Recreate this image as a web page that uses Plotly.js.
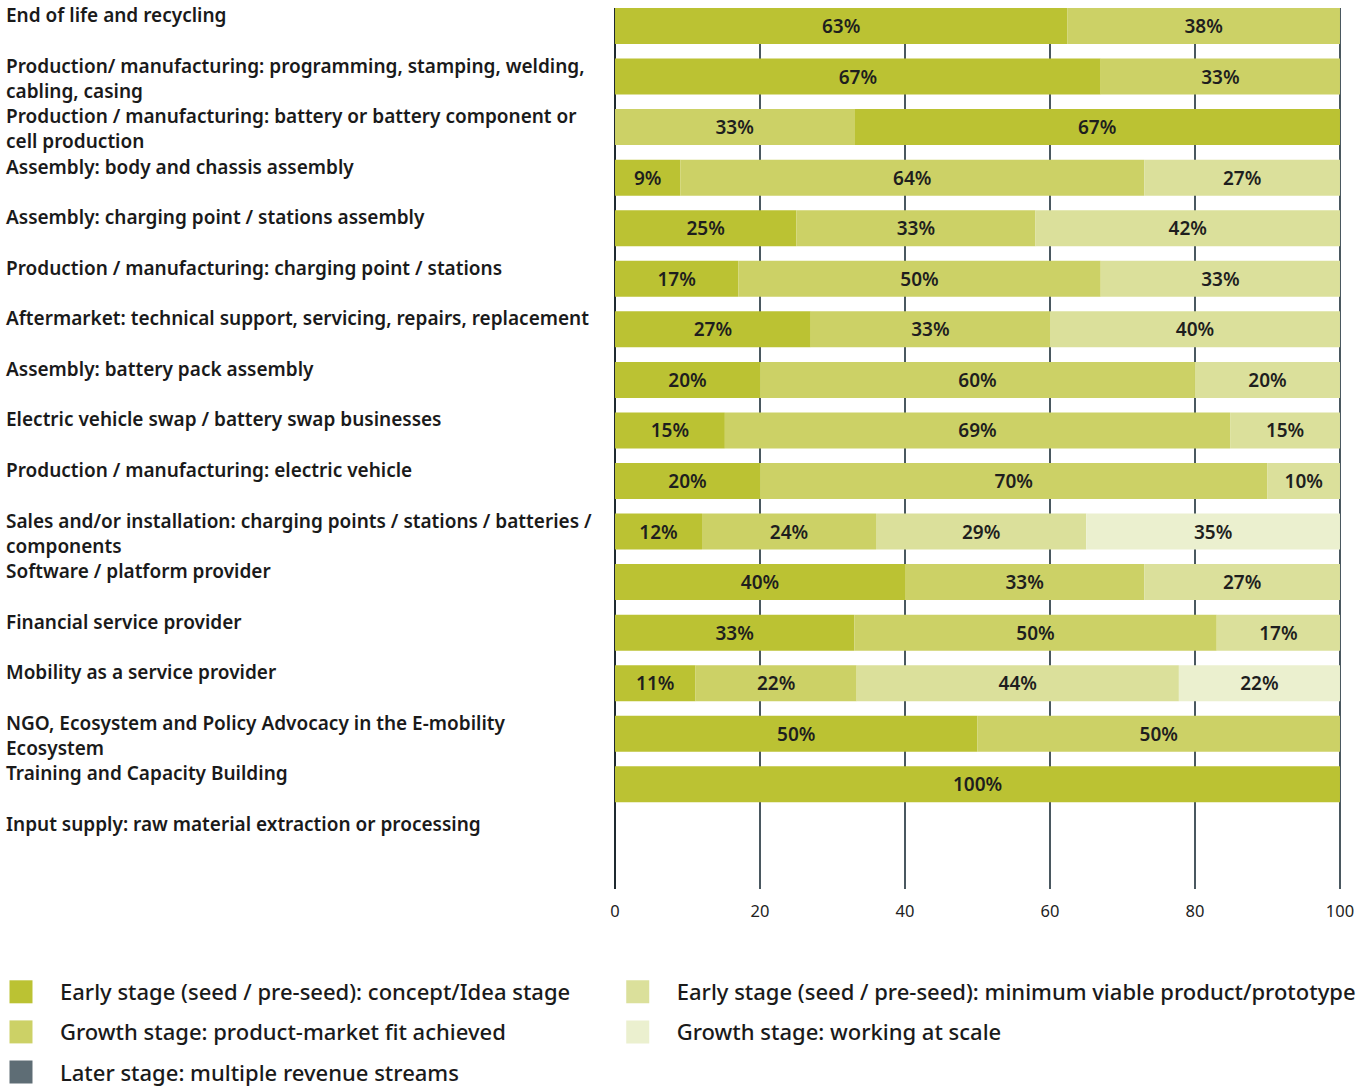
<!DOCTYPE html>
<html>
<head>
<meta charset="utf-8">
<script src="https://cdn.plot.ly/plotly-3.0.1.min.js"></script>
<style>
  html, body { margin: 0; padding: 0; background: #ffffff; }
  #chart { width: 1367px; height: 1088px; }
</style>
</head>
<body>
<div id="chart"></div>
<script>
// ---------- DATA ----------
const categories = [
  "End of life and recycling",
  "Production/ manufacturing: programming, stamping, welding,<br>cabling, casing",
  "Production / manufacturing: battery or battery component or<br>cell production",
  "Assembly: body and chassis assembly",
  "Assembly: charging point / stations assembly",
  "Production / manufacturing: charging point / stations",
  "Aftermarket: technical support, servicing, repairs, replacement",
  "Assembly: battery pack assembly",
  "Electric vehicle swap / battery swap businesses",
  "Production / manufacturing: electric vehicle",
  "Sales and/or installation: charging points / stations / batteries /<br>components",
  "Software / platform provider",
  "Financial service provider",
  "Mobility as a service provider",
  "NGO, Ecosystem and Policy Advocacy in the E-mobility<br>Ecosystem",
  "Training and Capacity Building",
  "Input supply: raw material extraction or processing"
];

const stageConcept = "Early stage (seed / pre-seed): concept/Idea stage";
const stageMVP     = "Early stage (seed / pre-seed): minimum viable product/prototype";
const stagePMF     = "Growth stage: product-market fit achieved";
const stageScale   = "Growth stage: working at scale";
const stageLater   = "Later stage: multiple revenue streams";

const conceptValues = [63, 67, 67,  9, 25, 17, 27, 20, 15, 20, 12, 40, 33, 11, 50, 100, 0];
const pmfValues     = [38, 33, 33, 64, 33, 50, 33, 60, 69, 70, 24, 33, 50, 22, 50,   0, 0];
const mvpValues     = [ 0,  0,  0, 27, 42, 33, 40, 20, 15, 10, 29, 27, 17, 44,  0,   0, 0];
const scaleValues   = [ 0,  0,  0,  0,  0,  0,  0,  0,  0,  0, 35,  0,  0, 22,  0,   0, 0];
const laterValues   = [ 0,  0,  0,  0,  0,  0,  0,  0,  0,  0,  0,  0,  0,  0,  0,   0, 0];

// stacking order of the segments in each bar (the battery row starts with the PMF segment)
const defaultOrder = ["concept", "pmf", "mvp", "scale", "later"];
const batteryOrder = ["pmf", "concept", "mvp", "scale", "later"];
const rowOrders = categories.map((c, i) => i === 2 ? batteryOrder : defaultOrder);

const xTicks = [0, 20, 40, 60, 80, 100];

// ---------- STYLE ----------
const colors = {
  concept: "#bbc233",
  pmf: "#ccd166",
  mvp: "#dbe09b",
  scale: "#ebf0cf",
  later: "#5e6d75"
};
const FONT = "Noto Sans, Open Sans, sans-serif";

const series = {
  concept: { name: stageConcept, values: conceptValues, legend: "legend",  group: "g1" },
  pmf:     { name: stagePMF,     values: pmfValues,     legend: "legend",  group: "g2" },
  mvp:     { name: stageMVP,     values: mvpValues,     legend: "legend2", group: "g4" },
  scale:   { name: stageScale,   values: scaleValues,   legend: "legend2", group: "g5" },
  later:   { name: stageLater,   values: laterValues,   legend: "legend",  group: "g3" }
};

// each bar is drawn as a share of its row total (rounded labels may not add to 100)
const rowTotals = categories.map((c, i) =>
  Object.keys(series).reduce((s, k) => s + series[k].values[i], 0));
const shares = {};
Object.keys(series).forEach(k => {
  shares[k] = series[k].values.map((v, i) => rowTotals[i] > 0 ? v / rowTotals[i] * 100 : 0);
});

// bases from the per-row stacking order
const bases = {};
Object.keys(series).forEach(k => bases[k] = []);
categories.forEach((c, i) => {
  let acc = 0;
  rowOrders[i].forEach(k => {
    bases[k][i] = acc;
    acc += shares[k][i];
  });
});

const traceKeys = ["concept", "pmf", "later", "mvp", "scale"];
const traces = traceKeys.map(k => ({
  type: "bar",
  orientation: "h",
  name: series[k].name,
  legend: series[k].legend,
  legendgroup: series[k].group,
  y: categories,
  x: shares[k],
  base: bases[k],
  text: series[k].values.map(v => v > 0 ? v + "%" : ""),
  textposition: "inside",
  insidetextanchor: "middle",
  textangle: 0,
  constraintext: "none",
  textfont: { family: FONT, size: 19, color: "#1e1e1e", weight: 600 },
  marker: { color: colors[k], line: { width: 0 } },
  hovertemplate: "%{text}<extra>" + series[k].name + "</extra>"
}));

const marginL = 614, marginR = 26, marginT = 8, marginB = 199;
const plotW = 1367 - marginL - marginR;

const annotations = categories.map(c => ({
  xref: "paper", yref: "y",
  x: (4 - marginL) / plotW, y: c,
  xanchor: "left", yanchor: "top",
  yshift: 26,
  align: "left",
  showarrow: false,
  text: c,
  font: { family: FONT, size: 19, color: "#1a1a1a", weight: 600 }
}));

const legendFont = { family: FONT, size: 22, color: "#1a1a1a", weight: 500 };

const layout = {
  width: 1367, height: 1088,
  margin: { l: marginL, r: marginR, t: marginT, b: marginB, autoexpand: false },
  paper_bgcolor: "#ffffff",
  plot_bgcolor: "#ffffff",
  barmode: "overlay",
  bargap: 0.288,
  showlegend: true,
  xaxis: {
    range: [-0.14, 100.14],
    tickvals: xTicks,
    ticktext: xTicks.map(String),
    tickangle: 0,
    showgrid: true,
    gridcolor: "#4a5860",
    gridwidth: 2,
    zeroline: true,
    zerolinecolor: "#1f2a30",
    zerolinewidth: 2,
    showline: false,
    ticks: "outside",
    ticklen: 7,
    tickcolor: "rgba(0,0,0,0)",
    tickfont: { family: FONT, size: 16.5, color: "#222222" },
    fixedrange: true
  },
  yaxis: {
    type: "category",
    categoryorder: "array",
    categoryarray: categories,
    range: [17.07, -0.356],
    showticklabels: false,
    showgrid: false,
    zeroline: false,
    ticks: "",
    fixedrange: true
  },
  legend: {
    xref: "container", yref: "container",
    x: 0, y: 1 - 971 / 1088,
    xanchor: "left", yanchor: "top",
    orientation: "v",
    traceorder: "grouped",
    tracegroupgap: 8.5,
    itemwidth: 50,
    font: legendFont,
    bgcolor: "rgba(0,0,0,0)"
  },
  legend2: {
    xref: "container", yref: "container",
    x: 0.438, y: 1 - 971 / 1088,
    xanchor: "left", yanchor: "top",
    orientation: "v",
    traceorder: "grouped",
    tracegroupgap: 8.5,
    itemwidth: 68,
    font: legendFont,
    bgcolor: "rgba(0,0,0,0)"
  },
  annotations: annotations
};

const gd = document.getElementById("chart");
function enlargeLegendSymbols() {
  gd.querySelectorAll("g.legend .legendpoints path").forEach(p => {
    p.setAttribute("d", "M2.5,11.5H-20.5V-11.5H2.5Z");
    p.style.strokeWidth = "0";
  });
  gd.querySelectorAll("g.legend2 .legendpoints path").forEach(p => {
    p.setAttribute("d", "M11.5,11.5H-11.5V-11.5H11.5Z");
    p.style.strokeWidth = "0";
  });
}
Plotly.newPlot(gd, traces, layout, { displayModeBar: false }).then(() => {
  enlargeLegendSymbols();
  gd.on("plotly_afterplot", enlargeLegendSymbols);
});
</script>
</body>
</html>
